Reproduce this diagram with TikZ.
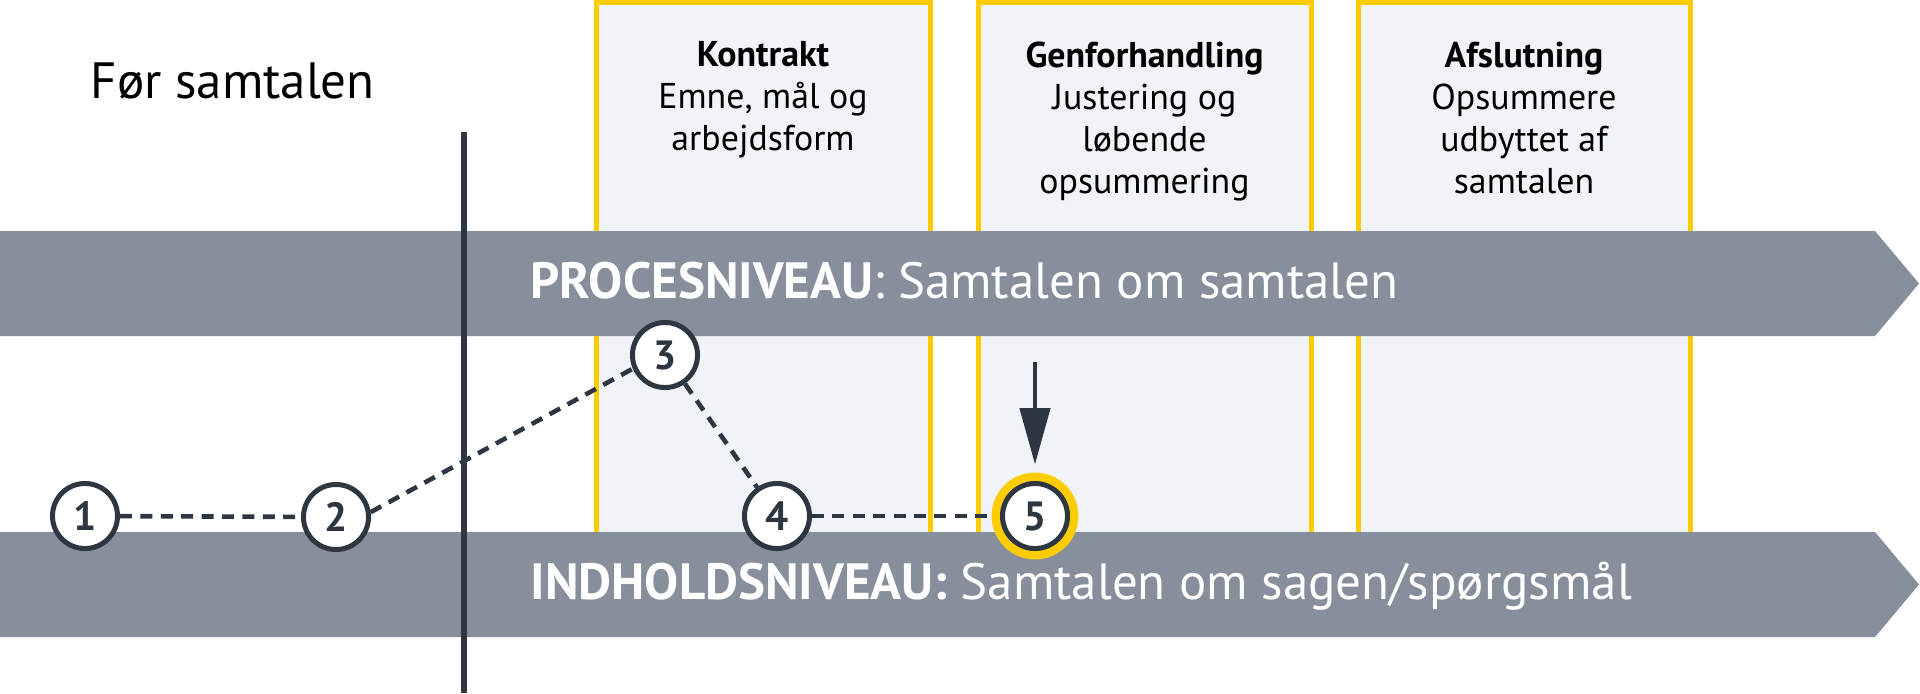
\documentclass[tikz,border=0pt]{standalone}
\usepackage{fontspec}
\setmainfont{PT Sans}
\usetikzlibrary{arrows.meta}
\definecolor{bandgray}{HTML}{868F9B}
\definecolor{darkink}{HTML}{2E3642}
\definecolor{phaseyellow}{HTML}{FFCC00}
\definecolor{phasefill}{HTML}{F0F3F7}

\begin{document}
\begin{tikzpicture}[x=0.01cm, y=-0.01cm,
	phase/.style={draw=phaseyellow, fill=phasefill, line width=1.42pt},
	phasetext/.style={align=center, anchor=north, inner sep=0pt, font=\fontsize{10.2}{11.95}\selectfont},
	band/.style={fill=bandgray},
	bandtext/.style={white, anchor=base west, inner sep=0pt, font=\fontsize{14.5}{17}\selectfont},
	num/.style={circle, draw=darkink, fill=white, line width=1.42pt, minimum size=18.5pt, inner sep=0pt, text=darkink, font=\fontsize{11.6}{12}\selectfont\bfseries},
	ring/.style={circle, draw=phaseyellow, fill=white, line width=2.5pt, minimum size=22.2pt, inner sep=0pt},
	link/.style={darkink, line width=1.3pt, dash pattern=on 3.4pt off 2.4pt},
	pointer/.style={darkink, line width=1.3pt, -{Triangle[length=16pt, width=8.5pt]}, shorten >=2.3pt}]
	\useasboundingbox (0, 0) rectangle (1920, 693);
	% phases
	\filldraw[phase] (596, 2.5) rectangle (930, 540);
	\filldraw[phase] (978, 2.5) rectangle (1311, 540);
	\filldraw[phase] (1358, 2.5) rectangle (1690, 540);
	\node[phasetext] (kontrakt) at (763, 41) {\textbf{Kontrakt}\\Emne, mål og\\arbejdsform};
	\node[phasetext] (genforh) at (1144.5, 41) {\textbf{Genforhandling}\\Justering og\\løbende\\opsummering};
	\node[phasetext] (afslut) at (1524, 41) {\textbf{Afslutning}\\Opsummere\\udbyttet af\\samtalen};
	\node[anchor=base west, inner sep=0pt, font=\fontsize{14.5}{17}\selectfont] (foer) at (90, 98) {Før samtalen};
	% levels
	\fill[band] (0, 231) -- (1875, 231) -- (1919, 283.5) -- (1875, 336) -- (0, 336) -- cycle;
	\fill[band] (0, 532) -- (1875, 532) -- (1919, 584.5) -- (1875, 637) -- (0, 637) -- cycle;
	\node[bandtext] (proces) at (530, 298) {\textbf{PROCESNIVEAU}: Samtalen om samtalen};
	\node[bandtext] (indhold) at (530, 599) {\textbf{INDHOLDSNIVEAU:} Samtalen om sagen/spørgsmål};
	% steps
	\node[num] (c1) at (85, 516) {1};
	\node[num] (c2) at (336, 517) {2};
	\node[num] (c3) at (665, 355) {3};
	\node[num] (c4) at (777, 516) {4};
	\node[ring] (r5) at (1035, 516) {};
	\node[num] (c5) at (r5) {5};
	\draw[link] (c1) -- (c2);
	\draw[link] (c2.8) -- (c3.203);
	\draw[link] (c3) -- (c4);
	\draw[link] (c4) -- (r5);
	\draw[darkink, line width=1.5pt] (464, 132) -- (464, 693);
	\coordinate (cue) at (1035, 362);
	\draw[pointer] (cue) -- (r5.north);
\end{tikzpicture}
\end{document}
